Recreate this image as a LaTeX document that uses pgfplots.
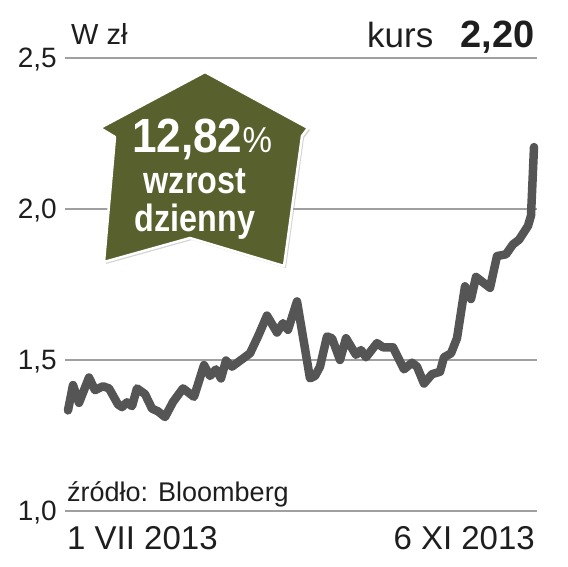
\documentclass[border=0pt]{standalone}
\usepackage{fontspec}
\setmainfont{Liberation Sans}
\newfontfamily\condfont[FakeStretch=0.85]{Liberation Sans}
\newfontfamily\digfont[FakeStretch=0.92]{Liberation Sans}
\usepackage{pgfplots}
\pgfplotsset{compat=1.18}
\usetikzlibrary{shadows}
\definecolor{linegray}{RGB}{85,85,85}
\definecolor{gridgray}{RGB}{160,160,160}
\definecolor{badge}{RGB}{88,97,45}
\definecolor{txt}{RGB}{30,30,30}

\begin{document}
\begin{tikzpicture}[x=1pt,y=1pt]
\useasboundingbox (0,0) rectangle (568,567);
\begin{axis}[
    at={(65pt,56pt)}, anchor=south west,
    scale only axis, width=472pt, height=453pt,
    xmin=65, xmax=537, ymin=1, ymax=2.5,
    clip=false,
    axis line style={draw=none}, tick style={draw=none},
    xtick=\empty, ytick={1,1.5,2,2.5},
    ymajorgrids, grid style={gridgray, line width=1.3pt},
    yticklabel style={font=\fontsize{28}{30}\selectfont, text=txt,
      anchor=base east, inner sep=0pt, xshift=-8pt, yshift=-10pt},
    /pgf/number format/.cd, use comma, fixed, fixed zerofill, precision=1,
    assume math mode=true
  ]
  % kurs dzienny, x = pozycja na osi czasu (1 VII - 6 XI 2013)
  \addplot[linegray, line width=8.5pt, line join=round, line cap=round] coordinates {
    (68,1.333) (73,1.417) (79,1.358) (89,1.442) (95,1.400) (103,1.413)
    (109,1.406) (118,1.353) (122,1.344) (127,1.360) (132,1.347) (137,1.406)
    (145,1.387) (152,1.339) (158,1.330) (165,1.311) (173,1.361) (183,1.406)
    (194,1.378) (204,1.483) (210,1.447) (216,1.469) (221,1.439) (226,1.498)
    (232,1.478) (250,1.522) (258,1.578) (267,1.647) (277,1.591) (283,1.622)
    (288,1.600) (297,1.694) (310,1.439) (315,1.447) (320,1.478) (327,1.578)
    (332,1.572) (340,1.500) (346,1.572) (356,1.517) (361,1.533) (366,1.509)
    (377,1.556) (383,1.542) (393,1.542) (404,1.469) (412,1.491) (417,1.478)
    (424,1.422) (432,1.453) (440,1.461) (444,1.509) (451,1.522) (457,1.572)
    (465,1.744) (471,1.702) (476,1.775) (490,1.739) (497,1.844) (506,1.850)
    (513,1.883) (519,1.898) (528,1.944) (531,1.978) (534,2.205)
  };
\end{axis}

% badge
\path[fill=badge, draw=white, line width=2.5pt, line join=round,
      drop shadow={shadow xshift=2pt, shadow yshift=-2pt, opacity=0.35}]
  (205,495) -- (308,439) -- (302,431) -- (284,301) -- (190,329)
  -- (104,305) -- (115,430) -- (100,439) -- cycle;
\node[anchor=base, inner sep=0pt, text=white] at (202,414)
  {\digfont\bfseries\fontsize{48}{48}\selectfont 12,82\mdseries\fontsize{36}{36}\selectfont\%};
\node[anchor=base, inner sep=0pt, text=white] at (195,373)
  {\condfont\bfseries\fontsize{38}{38}\selectfont wzrost};
\node[anchor=base, inner sep=0pt, text=white] at (195,335)
  {\condfont\bfseries\fontsize{38}{38}\selectfont dzienny};

% texts
\node[anchor=base west, inner sep=0pt, text=txt] at (71,522)
  {\fontsize{29}{30}\selectfont W zł};
\node[anchor=base west, inner sep=0pt, text=txt] at (367,519)
  {\fontsize{35}{36}\selectfont kurs};
\node[anchor=base east, inner sep=0pt, text=txt] at (535,519)
  {\fontsize{38}{38}\selectfont\bfseries 2,20};
\node[anchor=base west, inner sep=0pt, text=txt] at (67,65)
  {\fontsize{27}{28}\selectfont źródło: Bloomberg};
\node[anchor=base west, inner sep=0pt, text=txt] at (67,17)
  {\fontsize{33}{34}\selectfont 1 VII 2013};
\node[anchor=base east, inner sep=0pt, text=txt] at (535,17)
  {\fontsize{33}{34}\selectfont 6 XI 2013};
\end{tikzpicture}
\end{document}
